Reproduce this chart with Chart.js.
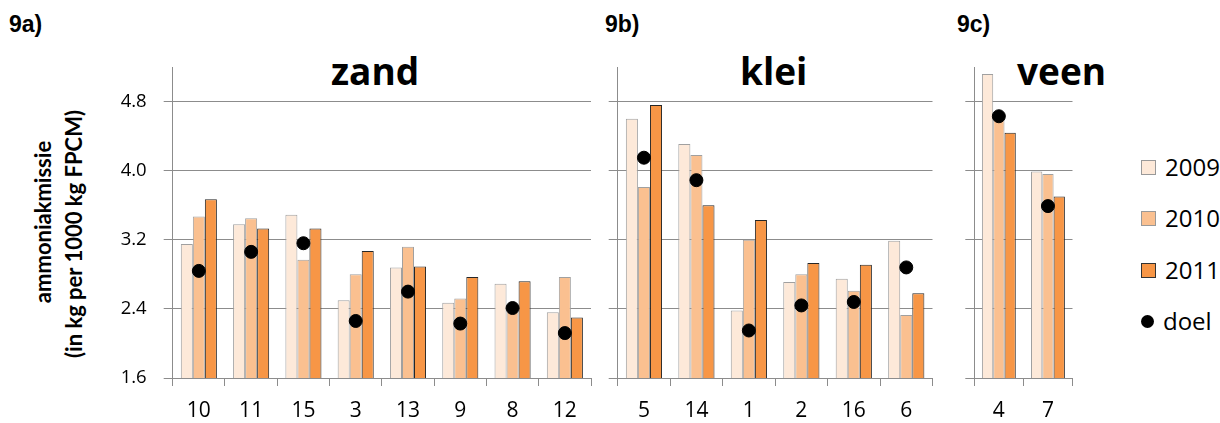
<!DOCTYPE html>
<html>
<head>
<meta charset="UTF-8">
<title>ammoniakemissie</title>
<script src="https://cdn.jsdelivr.net/npm/chart.js"></script>
<style>
  body { margin:0; width:1220px; height:423px; background:#fff; position:relative; overflow:hidden; font-family:"Open Sans", sans-serif; }
  canvas { position:absolute; }
  .lab { position:absolute; font-family:"Liberation Sans", Arial, sans-serif; font-weight:bold; font-size:23px; color:#000; }
  .ttl { position:absolute; font-family:"Open Sans", sans-serif; font-weight:bold; font-size:37px; color:#000; line-height:1; }
  .ytl { position:absolute; font-family:"Lato", sans-serif; font-weight:bold; font-size:22px; white-space:nowrap; transform:translate(-50%,-50%) rotate(-90deg); }
  .leg { position:absolute; left:1141px; font-size:24px; line-height:24px; }
  .leg span.box { display:inline-block; width:13px; height:13px; border:1px solid #999; vertical-align:middle; margin-right:9px; position:relative; top:-2px; }
  .leg span.dot { display:inline-block; width:13px; height:13px; border-radius:50%; background:#000; vertical-align:middle; margin-right:9px; position:relative; top:-2px; }
</style>
</head>
<body>
<div class="lab" style="left:9px; top:11px;">9a)</div>
<div class="lab" style="left:605px; top:11px;">9b)</div>
<div class="lab" style="left:957px; top:11px;">9c)</div>

<div class="ttl" style="left:331px; top:52px;">zand</div>
<div class="ttl" style="left:740px; top:52px;">klei</div>
<div class="ttl" style="left:1017px; top:52px;">veen</div>

<div class="ytl" style="left:42px; top:222px;">ammoniakmissie</div>
<div class="ytl" style="left:73px; top:234px;">(in kg per 1000 kg FPCM)</div>

<div class="leg" style="top:155px;"><span class="box" style="background:#FDE9D9;"></span>2009</div>
<div class="leg" style="top:206px;"><span class="box" style="background:#FAC090;"></span>2010</div>
<div class="leg" style="top:258px;"><span class="box" style="background:#F79646; border-color:#333;"></span>2011</div>
<div class="leg" style="top:309px;"><span class="dot"></span>doel</div>

<canvas id="zand" width="500" height="373" style="left:100px; top:50px;"></canvas>
<canvas id="klei" width="340" height="373" style="left:600px; top:50px;"></canvas>
<canvas id="veen" width="125" height="373" style="left:955px; top:50px;"></canvas>

<script>
// zand (9a)
const zandCats = ['10', '11', '15', '3', '13', '9', '8', '12'];
const zand2009 = [3.15, 3.38, 3.49, 2.50, 2.88, 2.47, 2.69, 2.36];
const zand2010 = [3.47, 3.45, 2.97, 2.80, 3.12, 2.52, 2.40, 2.77];
const zand2011 = [3.67, 3.33, 3.33, 3.07, 2.89, 2.77, 2.72, 2.30];
const zandDoel = [2.84, 3.06, 3.16, 2.26, 2.60, 2.23, 2.41, 2.12];

// klei (9b)
const kleiCats = ['5', '14', '1', '2', '16', '6'];
const klei2009 = [4.60, 4.31, 2.38, 2.71, 2.75, 3.19];
const klei2010 = [3.81, 4.18, 3.20, 2.80, 2.61, 2.33];
const klei2011 = [4.76, 3.60, 3.43, 2.93, 2.91, 2.58];
const kleiDoel = [4.15, 3.89, 2.15, 2.44, 2.48, 2.88];

// veen (9c)
const veenCats = ['4', '7'];
const veen2009 = [5.12, 3.99];
const veen2010 = [4.60, 3.96];
const veen2011 = [4.44, 3.70];
const veenDoel = [4.63, 3.59];

const yTicks = [1.6, 2.4, 3.2, 4.0, 4.8];

Chart.defaults.font.family = '"Open Sans", sans-serif';
Chart.defaults.color = '#000';

const gridCol = '#8c8c8c';

function makePanel(id, cats, d09, d10, d11, doel, yWidth, padRight, showLabels) {
    const ctx = document.getElementById(id).getContext('2d');
    return new Chart(ctx, {
        type: 'bar',
        data: {
            labels: cats,
            datasets: [
                {
                    type: 'line',
                    label: 'doel',
                    data: doel,
                    showLine: false,
                    pointRadius: 6.5,
                    pointBackgroundColor: '#000',
                    pointBorderColor: '#000',
                    order: 0
                },
                {
                    label: '2009',
                    data: d09,
                    backgroundColor: '#FDE9D9',
                    borderColor: '#a0a0a0',
                    borderWidth: 1,
                    order: 1
                },
                {
                    label: '2010',
                    data: d10,
                    backgroundColor: '#FAC090',
                    borderColor: '#a0a0a0',
                    borderWidth: 1,
                    order: 1
                },
                {
                    label: '2011',
                    data: d11,
                    backgroundColor: '#F79646',
                    borderColor: '#262626',
                    borderWidth: 1,
                    order: 1
                }
            ]
        },
        options: {
            responsive: false,
            animation: false,
            categoryPercentage: 0.69,
            barPercentage: 1.0,
            layout: { padding: { top: 17, bottom: 0, left: 0, right: padRight } },
            plugins: { legend: { display: false }, tooltip: { enabled: false } },
            scales: {
                x: {
                    afterFit: s => { s.height = 45; s.paddingLeft = 0; s.paddingRight = 0; },
                    grid: { drawOnChartArea: false, tickLength: 8, color: gridCol, offset: true },
                    border: { color: gridCol },
                    ticks: { font: { size: 21 }, padding: 12, maxRotation: 0 }
                },
                y: {
                    min: 1.6,
                    max: 5.2,
                    afterFit: s => { s.width = yWidth; s.paddingTop = 0; s.paddingBottom = 0; },
                    afterBuildTicks: s => { s.ticks = yTicks.map(v => ({ value: v })); },
                    grid: { color: gridCol, tickLength: 9 },
                    border: { color: gridCol },
                    ticks: {
                        display: showLabels,
                        font: { size: 18.5 },
                        padding: 17,
                        callback: v => Number(v).toFixed(1)
                    }
                }
            }
        }
    });
}

makePanel('zand', zandCats, zand2009, zand2010, zand2011, zandDoel, 72.7, 9, true);
makePanel('klei', kleiCats, klei2009, klei2010, klei2011, kleiDoel, 17.7, 5.7, false);
makePanel('veen', veenCats, veen2009, veen2010, veen2011, veenDoel, 19.3, 4, false);
</script>
</body>
</html>
